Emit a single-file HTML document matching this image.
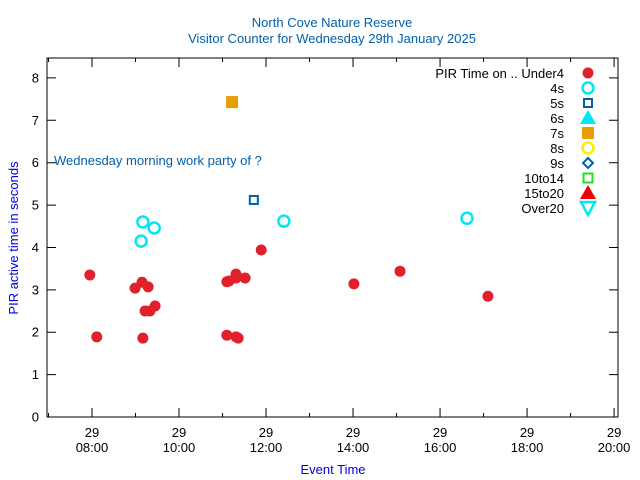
<!DOCTYPE html>
<html><head><meta charset="utf-8"><style>
body{margin:0;background:#fff}
svg{display:block;font-family:"Liberation Sans",sans-serif}
</style></head><body>
<svg id="chart" width="640" height="480" viewBox="0 0 640 480" xmlns="http://www.w3.org/2000/svg">
<rect width="640" height="480" fill="#fff"/>
<text x="332" y="27" font-size="13" fill="#0060ad" text-anchor="middle">North Cove Nature Reserve</text>
<text x="332" y="43" font-size="13" fill="#0060ad" text-anchor="middle">Visitor Counter for Wednesday 29th January 2025</text>
<text x="333" y="474" font-size="13" fill="#0000e0" text-anchor="middle">Event Time</text>
<text transform="translate(18,238) rotate(-90)" font-size="13" fill="#0000e0" text-anchor="middle">PIR active time in seconds</text>
<text x="54" y="165" font-size="13" fill="#0060ad">Wednesday morning work party of ?</text>
<g id="axes"></g>
<g id="marks"></g>
<g id="legend"></g>
</svg>
<script>
const under4X=[7.95,8.11,8.99,9.15,9.29,9.22,9.33,9.45,9.17,11.10,11.15,11.31,11.31,11.52,11.89,11.10,11.31,11.36,14.02,15.08,17.10];
const under4Y=[3.35,1.89,3.04,3.18,3.07,2.50,2.50,2.62,1.86,3.19,3.21,3.37,3.28,3.28,3.94,1.93,1.89,1.86,3.14,3.44,2.85];
const s4X=[9.17,9.43,9.13,12.41,16.62];
const s4Y=[4.60,4.46,4.15,4.62,4.69];
const s5X=[11.72];
const s5Y=[5.12];
const s7X=[11.22];
const s7Y=[7.43];
const yTicks=[0,1,2,3,4,5,6,7,8];
const xMajor=[8,10,12,14,16,18,20];
const xMajorLabels=["08:00","10:00","12:00","14:00","16:00","18:00","20:00"];
const xMinor=[7,9,11,13,15,17,19];
const legendLabels=["PIR Time on .. Under4","4s","5s","6s","7s","8s","9s","10to14","15to20","Over20"];

const L=47,R=618,T=58,B=417,XMIN=6.966,XMAX=20.09,YMIN=0,YMAX=8.47;
const sx=v=>L+(v-XMIN)/(XMAX-XMIN)*(R-L);
const sy=v=>B-(v-YMIN)/(YMAX-YMIN)*(B-T);
const NS="http://www.w3.org/2000/svg";
function mk(tag,attrs,parent){const e=document.createElementNS(NS,tag);for(const k in attrs)e.setAttribute(k,attrs[k]);parent.appendChild(e);return e;}
const axes=document.getElementById('axes'),marks=document.getElementById('marks'),leg=document.getElementById('legend');
const frame=mk('rect',{x:L,y:T,width:R-L,height:B-T,fill:'none',stroke:'#000','stroke-width':1},axes);


yTicks.forEach(v=>{
  const y=sy(v);
  const t=mk('path',{d:`M${L} ${y}H${L+9}M${R} ${y}H${R-9}`,stroke:'#000'},axes);
  
  
  const lb=mk('text',{x:L-8,y:y+4.5,'font-size':13,'text-anchor':'end',fill:'#000'},axes);
  lb.textContent=v;
  
  
});
xMajor.forEach((v,i)=>{
  const x=sx(v);
  const t=mk('path',{d:`M${x} ${B}V${B-9}M${x} ${T}V${T+9}`,stroke:'#000'},axes);
  
  
  const lb=mk('text',{x:x,y:437,'font-size':13,'text-anchor':'middle',fill:'#000'},axes);
  lb.textContent='29';
  
  
  const lb2=mk('text',{x:x,y:452,'font-size':13,'text-anchor':'middle',fill:'#000'},axes);
  lb2.textContent=xMajorLabels[i];
  
  
});
xMinor.forEach(v=>{
  const x=sx(v);
  const t=mk('path',{d:`M${x} ${B}V${B-4}M${x} ${T}V${T+4}`,stroke:'#000'},axes);
  
  
});
function dot(x,y,p){const c=mk('circle',{cx:x,cy:y,r:5.5,fill:'#e0202a'},p);return c;}
function ring(x,y,p){const c=mk('circle',{cx:x,cy:y,r:5.5,fill:'none',stroke:'#00e8f0','stroke-width':2.5},p);return c;}
function sq(x,y,p){const c=mk('rect',{x:x-4,y:y-4,width:8,height:8,fill:'none',stroke:'#0060ad','stroke-width':2},p);return c;}
function fsq(x,y,p){const c=mk('rect',{x:x-6,y:y-6,width:12,height:12,fill:'#e69f00'},p);return c;}
under4X.forEach((v,i)=>dot(sx(v),sy(under4Y[i]),marks));
s4X.forEach((v,i)=>ring(sx(v),sy(s4Y[i]),marks));
s5X.forEach((v,i)=>sq(sx(v),sy(s5Y[i]),marks));
s7X.forEach((v,i)=>fsq(sx(v),sy(s7Y[i]),marks));
legendLabels.forEach((s,i)=>{
  const y=73+i*15;
  const t=mk('text',{x:564,y:y+5,'font-size':13,'text-anchor':'end',fill:'#000'},leg);
  t.textContent=s;
  
  
  const x=588;
  let m;
  if(i==0)m=dot(x,y,leg);
  else if(i==1)m=ring(x,y,leg);
  else if(i==2)m=sq(x,y,leg);
  else if(i==3)m=mk('path',{d:`M${x} ${y-8}L${x+8} ${y+6}L${x-8} ${y+6}Z`,fill:'#00e8f0'},leg);
  else if(i==4)m=fsq(x,y,leg);
  else if(i==5)m=mk('circle',{cx:x,cy:y,r:5.5,fill:'none',stroke:'#f8f000','stroke-width':2.5},leg);
  else if(i==6)m=mk('path',{d:`M${x} ${y-5}L${x+5} ${y}L${x} ${y+5}L${x-5} ${y}Z`,fill:'none',stroke:'#0060ad','stroke-width':2},leg);
  else if(i==7)m=mk('rect',{x:x-4.5,y:y-4.5,width:9,height:9,fill:'none',stroke:'#20e020','stroke-width':2},leg);
  else if(i==8)m=mk('path',{d:`M${x} ${y-8}L${x+8} ${y+6}L${x-8} ${y+6}Z`,fill:'#f00000'},leg);
  else m=mk('path',{d:`M${x-7} ${y-6}L${x+7} ${y-6}L${x} ${y+7}Z`,fill:'none',stroke:'#00e8f0','stroke-width':2.5},leg);
  
  
});
</script>
</body></html>
